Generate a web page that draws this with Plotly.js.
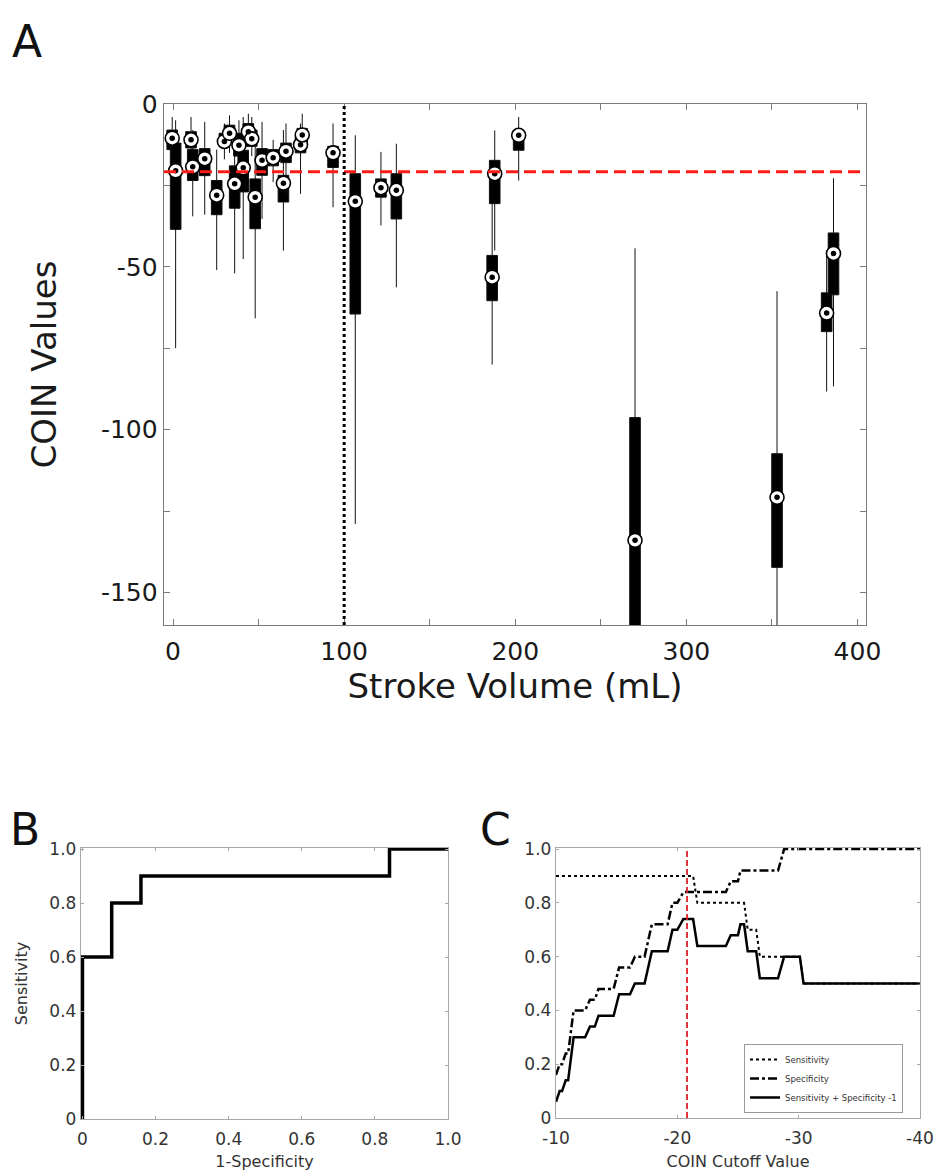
<!DOCTYPE html>
<html>
<head>
<meta charset="utf-8">
<script src="https://cdn.plot.ly/plotly-3.0.1.min.js"></script>
<style>html,body{margin:0;padding:0;background:#fff}#chart{width:935px;height:1171px}</style>
</head>
<body>
<div id="chart"></div>
<script>
// ---------- Panel A: COIN values per stroke volume (box summaries) ----------
const strokeVolume = [-0.5, 1.5, 10.5, 11.5, 18.5, 25.5, 30, 33, 36, 38.5, 41, 44, 46, 48, 52, 58.5, 64.5, 66, 74.5, 75.5, 93.5, 106.5, 121.5, 130.5, 186.5, 188, 202, 270, 353, 382, 386];
const whiskerLow  = [-18, -75, -16, -34.5, -34, -51, -17, -15, -52, -22, -47.6, -13, -16, -65.8, -35.3, -24, -45, -28, -27.6, -15, -31.7, -129, -37.3, -56.3, -80, -45, -23.5, -250, -200, -88.3, -86.7];
const quart1      = [-14, -38.5, -13.5, -23.5, -22, -34, -13, -11, -32, -16, -27, -11, -13, -38.3, -21.9, -19, -30.1, -18, -15, -12, -19.5, -64.5, -28.6, -35.3, -60.4, -30.6, -14.2, -175, -142.3, -69.9, -58.6];
const medianVal   = [-10.5, -20.5, -11, -19.3, -16.8, -28, -11.5, -9, -24.5, -12.7, -19.6, -8.5, -10.7, -28.6, -17.3, -16.5, -24.3, -14.5, -12.5, -9.5, -15, -29.9, -25.7, -26.5, -53.2, -21.4, -9.6, -134, -120.8, -64.2, -45.9];
const quart3      = [-8, -12, -8.5, -14, -13.7, -23.5, -9, -6.5, -19, -9, -14.2, -6, -8, -23, -13.7, -14, -21.9, -12, -10, -7.5, -13, -21.4, -23, -21.4, -46.5, -17.3, -8.6, -96.3, -107.4, -58, -39.6];
const whiskerHigh = [-4, -5, -4, -8, -5.5, -14, -6, -3.5, -11, -5, -4, -3, -4, -8, -5.5, -11, -8, -6, -6, -3, -6, -9.6, -14.7, -12.2, -30, -8.1, -4, -44.3, -57.5, -45, -22.8];
const coinCutoffA = -20.8;        // red dashed threshold
const strokeThreshold = 100;      // dotted vertical line
const yTickValsA = [0, -50, -100, -150];
const yTickTextA = ['0', '-50', '-100', '-150'];
const yMinorA = [-25, -75, -125];
const xTickValsA = [0, 100, 200, 300, 400];
const xMinorA = [50, 150, 250, 350];

// ---------- Panel B: ROC curve ----------
const rocFpr = [0, 0, 0.08, 0.08, 0.16, 0.16, 0.84, 0.84, 1.0];
const rocTpr = [0, 0.6, 0.6, 0.8, 0.8, 0.9, 0.9, 1.0, 1.0];
const unitTickVals = [0, 0.2, 0.4, 0.6, 0.8, 1.0];
const unitTickText = ['0', '0.2', '0.4', '0.6', '0.8', '1.0'];

// ---------- Panel C: metrics vs COIN cutoff ----------
const sensX = [-10, -21.3, -21.65, -25.5, -25.8, -26.5, -26.8, -30.1, -30.4, -40];
const sensY = [0.9, 0.9, 0.8, 0.8, 0.7, 0.7, 0.6, 0.6, 0.5, 0.5];
const specX = [-10, -10.3, -10.5, -10.8, -11.0, -11.45, -12.4, -12.8, -13.2, -13.5, -14.75, -15.2, -16.1, -16.5, -17.3, -17.9, -19.2, -19.6, -20.0, -20.5, -24.0, -24.4, -25.0, -25.2, -28.3, -28.8, -40];
const specY = [0.16, 0.2, 0.2, 0.24, 0.24, 0.40, 0.40, 0.44, 0.44, 0.48, 0.48, 0.56, 0.56, 0.60, 0.60, 0.72, 0.72, 0.80, 0.80, 0.84, 0.84, 0.88, 0.88, 0.92, 0.92, 1.0, 1.0];
const youdenX = [-10, -10.3, -10.5, -10.8, -11.0, -11.45, -12.4, -12.8, -13.2, -13.5, -14.75, -15.2, -16.1, -16.5, -17.3, -17.9, -19.2, -19.6, -20.0, -20.5, -21.3, -21.65, -24.0, -24.4, -25.0, -25.2, -25.5, -25.8, -26.5, -26.8, -28.3, -28.8, -30.1, -30.4, -39.9];
const youdenY = [0.06, 0.1, 0.1, 0.14, 0.14, 0.30, 0.30, 0.34, 0.34, 0.38, 0.38, 0.46, 0.46, 0.50, 0.50, 0.62, 0.62, 0.70, 0.70, 0.74, 0.74, 0.64, 0.64, 0.68, 0.68, 0.72, 0.72, 0.62, 0.62, 0.52, 0.52, 0.60, 0.60, 0.50, 0.50];
const coinCutoffC = -20.8;
const xTickValsC = [-10, -20, -30, -40];
const xTickTextC = ['-10', '-20', '-30', '-40'];

const FONT = 'DejaVu Sans, Verdana, sans-serif';
const W = 935, H = 1171;
const px = v => v / W;
const py = v => 1 - v / H;

const traces = [
  {
    type: 'box', x: strokeVolume, q1: quart1, median: medianVal, q3: quart3,
    lowerfence: whiskerLow, upperfence: whiskerHigh,
    width: 6.2, whiskerwidth: 0, fillcolor: '#000',
    line: {color: '#111', width: 1}, boxpoints: false,
    xaxis: 'x', yaxis: 'y', showlegend: false, hoverinfo: 'skip'
  },
  {
    type: 'scatter', mode: 'markers', x: strokeVolume, y: medianVal,
    marker: {symbol: 'circle', size: 14, color: '#fff', line: {color: '#000', width: 1.6}},
    xaxis: 'x', yaxis: 'y', showlegend: false, hoverinfo: 'skip', cliponaxis: true
  },
  {
    type: 'scatter', mode: 'markers', x: strokeVolume, y: medianVal,
    marker: {symbol: 'circle', size: 5.5, color: '#000'},
    xaxis: 'x', yaxis: 'y', showlegend: false, hoverinfo: 'skip', cliponaxis: true
  },
  {
    type: 'scatter', mode: 'lines', x: rocFpr, y: rocTpr,
    line: {color: '#000', width: 3.5, shape: 'linear'},
    xaxis: 'x2', yaxis: 'y2', showlegend: false, hoverinfo: 'skip'
  },
  {
    type: 'scatter', mode: 'lines', x: sensX, y: sensY, name: 'Sensitivity',
    line: {color: '#000', width: 2, dash: 'dot'},
    xaxis: 'x3', yaxis: 'y3', showlegend: true, hoverinfo: 'skip'
  },
  {
    type: 'scatter', mode: 'lines', x: specX, y: specY, name: 'Specificity',
    line: {color: '#000', width: 2.5, dash: 'dashdot'},
    xaxis: 'x3', yaxis: 'y3', showlegend: true, hoverinfo: 'skip'
  },
  {
    type: 'scatter', mode: 'lines', x: youdenX, y: youdenY, name: 'Sensitivity + Specificity -1',
    line: {color: '#000', width: 2.5},
    xaxis: 'x3', yaxis: 'y3', showlegend: true, hoverinfo: 'skip'
  }
];

const axA = {
  showgrid: false, zeroline: false, showline: true, linecolor: '#7a7a7a', linewidth: 1.3,
  mirror: 'ticks', ticks: 'inside', ticklen: 6, tickcolor: '#7a7a7a',
  tickfont: {family: FONT, size: 25, color: '#1a1a1a'}, automargin: false
};
const axBC = {
  showgrid: false, zeroline: false, showline: true, linecolor: '#a8a8a8', linewidth: 1.2,
  mirror: 'ticks', ticks: 'inside', ticklen: 3, tickcolor: '#a8a8a8',
  tickfont: {family: FONT, size: 17, color: '#333'}, automargin: false
};

const layout = {
  width: W, height: H,
  margin: {l: 0, r: 0, t: 0, b: 0},
  paper_bgcolor: '#fff', plot_bgcolor: '#fff',
  font: {family: FONT, color: '#222'},
  xaxis: Object.assign({}, axA, {
    domain: [px(164), px(866)], range: [-5.3, 405], anchor: 'y',
    tickmode: 'array', tickvals: xTickValsA, ticklabelstandoff: 4,
    minor: {tickvals: xMinorA, ticks: 'inside', ticklen: 6, tickcolor: '#7a7a7a'},
    title: {text: 'Stroke Volume (mL)', font: {family: FONT, size: 34, color: '#1a1a1a'}, standoff: 4}
  }),
  yaxis: Object.assign({}, axA, {
    domain: [py(625), py(104)], range: [-160, 0], anchor: 'x',
    tickmode: 'array', tickvals: yTickValsA, ticktext: yTickTextA,
    minor: {tickvals: yMinorA, ticks: 'inside', ticklen: 6, tickcolor: '#7a7a7a'},
    title: {text: 'COIN Values', font: {family: FONT, size: 34, color: '#1a1a1a'}, standoff: 34}
  }),
  xaxis2: Object.assign({}, axBC, {
    domain: [px(81), px(448)], range: [-0.004, 1.0], anchor: 'y2',
    tickmode: 'array', tickvals: unitTickVals, ticktext: unitTickText, ticklabelstandoff: 4,
    title: {text: '1-Specificity', font: {family: FONT, size: 16, color: '#333'}, standoff: 10}
  }),
  yaxis2: Object.assign({}, axBC, {
    domain: [py(1119), py(848)], range: [0, 1.004], anchor: 'x2',
    tickmode: 'array', tickvals: unitTickVals, ticktext: unitTickText,
    title: {text: 'Sensitivity', font: {family: FONT, size: 16, color: '#333'}, standoff: 17}
  }),
  xaxis3: Object.assign({}, axBC, {
    domain: [px(556), px(920)], range: [-10, -40], anchor: 'y3',
    tickmode: 'array', tickvals: xTickValsC, ticktext: xTickTextC, ticklabelstandoff: 4,
    title: {text: 'COIN Cutoff Value', font: {family: FONT, size: 16, color: '#333'}, standoff: 10}
  }),
  yaxis3: Object.assign({}, axBC, {
    domain: [py(1118), py(848)], range: [0, 1.004], anchor: 'x3',
    tickmode: 'array', tickvals: unitTickVals, ticktext: unitTickText
  }),
  showlegend: true,
  legend: {
    x: px(744), y: py(1113), xanchor: 'left', yanchor: 'bottom',
    bgcolor: '#fff', bordercolor: '#9a9a9a', borderwidth: 1,
    font: {family: FONT, size: 8.5, color: '#333'},
    tracegroupgap: 0, itemwidth: 30
  },
  shapes: [
    {type: 'line', xref: 'x domain', yref: 'y', x0: 0, x1: 1, y0: coinCutoffA, y1: coinCutoffA,
     line: {color: '#ff1a1a', width: 3.2, dash: '12px,6px'}, layer: 'above'},
    {type: 'line', xref: 'x', yref: 'y domain', x0: strokeThreshold, x1: strokeThreshold, y0: 0, y1: 1,
     line: {color: '#000', width: 3, dash: 'dot'}, layer: 'above'},
    {type: 'line', xref: 'x3', yref: 'y3 domain', x0: coinCutoffC, x1: coinCutoffC, y0: 0, y1: 1,
     line: {color: '#e0202a', width: 1.8, dash: '6px,3px'}, layer: 'above'}
  ],
  annotations: [
    {text: 'A', xref: 'paper', yref: 'paper', x: px(10), y: py(14), xanchor: 'left', yanchor: 'top',
     showarrow: false, font: {family: FONT, size: 44, color: '#111'}},
    {text: 'B', xref: 'paper', yref: 'paper', x: px(8), y: py(802), xanchor: 'left', yanchor: 'top',
     showarrow: false, font: {family: FONT, size: 44, color: '#111'}},
    {text: 'C', xref: 'paper', yref: 'paper', x: px(478), y: py(802), xanchor: 'left', yanchor: 'top',
     showarrow: false, font: {family: FONT, size: 44, color: '#111'}}
  ]
};

Plotly.newPlot('chart', traces, layout, {staticPlot: true, displayModeBar: false});
</script>
</body>
</html>
